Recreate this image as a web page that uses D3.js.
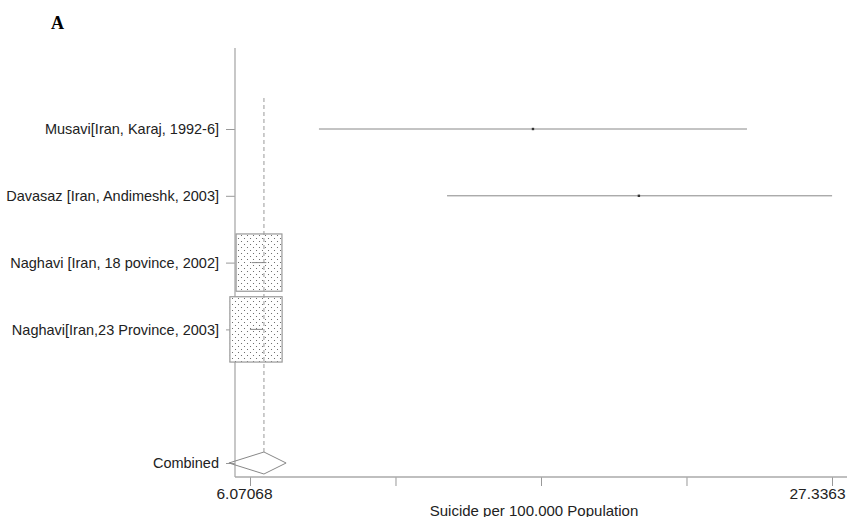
<!DOCTYPE html>
<html>
<head>
<meta charset="utf-8">
<script src="https://cdn.jsdelivr.net/npm/d3@7"></script>
<style>
  body { margin: 0; background: #fff; }
  text { font-family: "Liberation Sans", Arial, sans-serif; fill: #222; }
</style>
</head>
<body>
<div id="chart"></div>
<script>
//////////////////////////////////////////////////////
///////////////////// The data ///////////////////////
//////////////////////////////////////////////////////

var studies = ["Musavi[Iran, Karaj, 1992-6]", "Davasaz [Iran, Andimeshk, 2003]",
	"Naghavi [Iran, 18 povince, 2002]", "Naghavi[Iran,23 Province, 2003]"];
var estimates = [16.41, 20.28, 6.40, 6.29];
var lower = [8.59, 13.27, 6.13, 6.07];
var upper = [24.23, 27.34, 6.67, 6.55];
var weights = [0.01, 0.01, 43.5, 56.5];
var combined = {label: "Combined", est: 6.58, lo: 5.30, hi: 7.39};
var xTicks = [6.07068, 11.38708, 16.70349, 22.01989, 27.3363];
var xTickLabels = ["6.07068", "", "", "", "27.3363"];
var xTitle = "Suicide per 100.000 Population";

//////////////////////////////////////////////////////
/////////////////// Set up the svg ///////////////////
//////////////////////////////////////////////////////

var width = 847, height = 517;
var axisX = 235, axisY = 477, axisTop = 48;

var svg = d3.select("#chart").append("svg")
	.attr("width", width)
	.attr("height", height);

var x = d3.scaleLinear().domain([6.07068, 27.3363]).range([250, 832]);
//rows 0-3 studies, row 4 empty, row 5 combined
var y = d3.scaleLinear().domain([0, 5]).range([129, 463]);
var boxW = d3.scaleSqrt().domain([0, 100]).range([0, 69.5]);

//dotted fill for the weight boxes
var pattern = svg.append("defs").append("pattern")
	.attr("id", "dots")
	.attr("patternUnits", "userSpaceOnUse")
	.attr("width", 6).attr("height", 6);
pattern.append("rect").attr("width", 6).attr("height", 6).attr("fill", "#fff");
pattern.append("circle").attr("cx", 1.5).attr("cy", 1.5).attr("r", 0.55).attr("fill", "#555");
pattern.append("circle").attr("cx", 4.5).attr("cy", 4.5).attr("r", 0.55).attr("fill", "#555");

//Panel letter
svg.append("text")
	.attr("x", 51).attr("y", 29)
	.style("font-family", "'Liberation Serif', 'Times New Roman', serif")
	.style("font-weight", "bold")
	.style("font-size", "18px")
	.style("fill", "#000")
	.text("A");

//////////////////////////////////////////////////////
/////////////////////// Axes /////////////////////////
//////////////////////////////////////////////////////

var xAxis = svg.append("g")
	.attr("transform", "translate(0," + axisY + ")")
	.call(d3.axisBottom(x).tickValues(xTicks).tickSize(9).tickSizeOuter(0)
		.tickFormat(function(d, i) { return xTickLabels[i]; }));
xAxis.select(".domain").remove();
xAxis.selectAll("line").attr("stroke", "#999");
xAxis.selectAll("text")
	.attr("y", 22).attr("dy", 0)
	.style("font-size", "15.5px").attr("fill", "#222")
	.attr("x", function(d, i) { return i === 0 ? -6 : (i === xTicks.length - 1 ? 13 : 0); })
	.attr("text-anchor", function(d, i) { return i === xTicks.length - 1 ? "end" : "middle"; });

var yAxis = svg.append("g")
	.attr("transform", "translate(" + axisX + ",0)")
	.call(d3.axisLeft(y).tickValues([0, 1, 2, 3, 5]).tickSize(9)
		.tickFormat(function(d) { return d === 5 ? combined.label : studies[d]; }));
yAxis.select(".domain").remove();
yAxis.selectAll("line").attr("stroke", "#999");
yAxis.selectAll("text").attr("x", -16).style("font-size", "14.5px").attr("fill", "#222");

svg.append("line")
	.attr("x1", axisX).attr("x2", width)
	.attr("y1", axisY).attr("y2", axisY)
	.attr("stroke", "#aaa").attr("stroke-width", 1.3);
svg.append("line")
	.attr("x1", axisX).attr("x2", axisX)
	.attr("y1", axisTop).attr("y2", axisY)
	.attr("stroke", "#aaa").attr("stroke-width", 1.3);

svg.append("text")
	.attr("x", 534).attr("y", 516)
	.attr("text-anchor", "middle")
	.style("font-size", "15px")
	.text(xTitle);

//////////////////////////////////////////////////////
/////////////////// Study markers ////////////////////
//////////////////////////////////////////////////////

var rows = studies.map(function(s, i) {
	return {name: s, est: estimates[i], lo: lower[i], hi: upper[i], w: weights[i], i: i};
});

//Weight boxes
svg.selectAll(".wbox")
	.data(rows.filter(function(d) { return d.w > 1; }))
	.enter().append("rect")
	.attr("class", "wbox")
	.attr("x", function(d) { return x(d.est) - boxW(d.w) / 2; })
	.attr("y", function(d) { return y(d.i) - boxW(d.w) * 1.25 / 2; })
	.attr("width", function(d) { return boxW(d.w); })
	.attr("height", function(d) { return boxW(d.w) * 1.25; })
	.attr("fill", "url(#dots)")
	.attr("stroke", "#999")
	.attr("stroke-width", 1.2);

//Combined estimate line
svg.append("line")
	.attr("x1", x(combined.est)).attr("x2", x(combined.est))
	.attr("y1", 98).attr("y2", y(5) - 11)
	.attr("stroke", "#999")
	.attr("stroke-dasharray", "4,3");

//Confidence intervals
svg.selectAll(".ci")
	.data(rows)
	.enter().append("line")
	.attr("class", "ci")
	.attr("x1", function(d) { return x(d.lo); })
	.attr("x2", function(d) { return x(d.hi); })
	.attr("y1", function(d) { return y(d.i); })
	.attr("y2", function(d) { return y(d.i); })
	.attr("stroke", "#888");

//Point estimates
svg.selectAll(".pt")
	.data(rows.filter(function(d) { return d.w <= 1; }))
	.enter().append("rect")
	.attr("class", "pt")
	.attr("x", function(d) { return x(d.est) - 1.2; })
	.attr("y", function(d) { return y(d.i) - 1.2; })
	.attr("width", 2.4).attr("height", 2.4)
	.attr("fill", "#333");

//Combined diamond
var cy = y(5);
svg.append("path")
	.attr("d", "M" + x(combined.lo) + "," + cy +
		"L" + x(combined.est) + "," + (cy - 11) +
		"L" + x(combined.hi) + "," + cy +
		"L" + x(combined.est) + "," + (cy + 11) + "Z")
	.attr("fill", "none")
	.attr("stroke", "#888");
</script>
</body>
</html>
